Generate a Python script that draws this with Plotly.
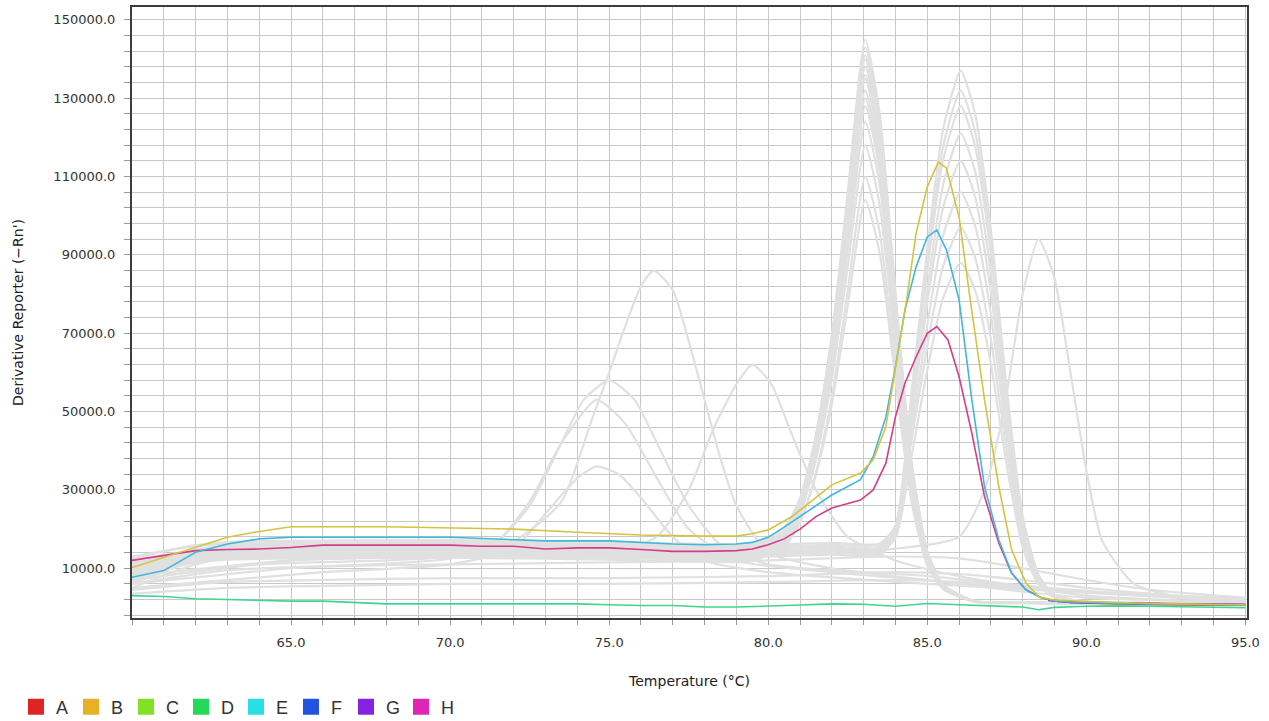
import plotly.graph_objects as go

# ---------------- colored wells ----------------
B_T = [60, 61, 62, 63, 64, 65, 68, 70, 72, 74, 76, 78, 79, 79.5, 80, 80.75, 81.5, 82, 82.9, 83.3, 83.7, 84,
       84.35, 84.65, 85, 85.35, 85.6, 86, 86.35, 86.8, 87.25, 87.65, 88.1, 88.5, 89, 90, 92, 95]
B_V = [10200, 12800, 15400, 17900, 19400, 20600, 20600, 20300, 20000, 19200, 18500, 18200, 18200, 18800, 19800,
       23200, 28000, 31300, 34300, 37700, 46200, 61500, 78500, 95600, 107400, 113700, 112200, 99700, 78500,
       53000, 30800, 14700, 6300, 2700, 1900, 1500, 1000, 700]

E_T = [60, 61, 62, 63, 64, 65, 70, 72, 73, 75, 76, 77, 78, 79, 79.5, 80, 80.5, 81, 82, 82.9, 83.3, 83.7, 84,
       84.3, 84.65, 85, 85.3, 85.6, 86, 86.4, 86.8, 87.25, 87.65, 88.1, 88.6, 89.1, 91, 95]
E_V = [7700, 9400, 14100, 16200, 17500, 17900, 17900, 17200, 17000, 17000, 16600, 16200, 16000, 16200, 16600,
       17900, 20500, 23200, 28700, 32600, 38500, 48700, 61500, 76000, 87000, 94600, 96400, 91300, 78500, 53000,
       30800, 17200, 8800, 4500, 2400, 1500, 1000, 600]

H_T = [60, 61, 62, 63, 64, 65, 66, 70, 71, 72, 73, 74, 75, 76, 77, 78, 79, 79.5, 80, 80.5, 81, 81.5, 82, 82.9,
       83.3, 83.7, 84, 84.3, 84.65, 85, 85.3, 85.65, 86, 86.4, 86.8, 87.25, 87.65, 88.1, 88.6, 89.1, 91, 95]
H_V = [12000, 13200, 14500, 14800, 14900, 15300, 15900, 15900, 15600, 15600, 14900, 15200, 15200, 14800, 14300,
       14300, 14500, 14900, 16000, 17500, 20000, 23200, 25400, 27400, 30000, 36900, 48700, 57300, 64000, 70000,
       71700, 68300, 58900, 44500, 28300, 16400, 8800, 4500, 2400, 1500, 1100, 700]

D_T = [60, 61, 62, 63, 64, 65, 66, 67, 68, 70, 72, 74, 75, 76, 77, 78, 79, 80, 81, 82, 83, 84, 85, 86, 87, 88,
       88.5, 89, 90, 91, 92, 93, 94, 95]
D_V = [3000, 2800, 2200, 2000, 1700, 1600, 1600, 1300, 900, 900, 900, 900, 700, 500, 500, 100, 100, 300, 600,
       900, 800, 300, 1000, 700, 400, 100, -600, 0, 300, 400, 300, 200, 0, -100]

TAIL_T = [88.8, 89.5, 90.5, 91.5, 92.5, 93.5, 94.5, 95]
A_V = [2000, 1300, 1000, 800, 700, 600, 600, 600]
F_V = [1900, 1400, 1200, 1000, 900, 800, 700, 700]
G_V = [1800, 1300, 1100, 1000, 950, 900, 800, 800]

# ---------------- gray (other) wells ----------------
G83_T = [60, 61, 62, 63, 65, 70, 75, 78, 79.5, 80.5, 81, 81.5, 82, 82.5, 83.05, 83.5, 84, 84.5, 85, 85.5, 86.5,
         88, 90, 95]
G83_1 = [9000, 11400, 13500, 14700, 15000, 15200, 14700, 14200, 14300, 18500, 26500, 43600, 69600, 106000, 145000, 126300, 80400, 37400, 14400, 5800, 1500, 1200, 1000, 600]
G83_2 = [11000, 13000, 14750, 15700, 16000, 16200, 15700, 15200, 15300, 19350, 27050, 43500, 68500, 103500, 141000, 122900, 78200, 36400, 14100, 5700, 1600, 1300, 1000, 700]
G83_3 = [8000, 10400, 12500, 13700, 14000, 14200, 13700, 13200, 13300, 17300, 25000, 41300, 66100, 100800, 138000, 120300, 76600, 35600, 13800, 5600, 1400, 1100, 900, 600]
G83_4 = [12000, 13400, 14600, 15200, 15500, 15700, 15200, 14700, 14800, 18700, 26100, 41800, 65700, 99200, 135000, 117600, 74900, 34900, 13500, 5500, 1500, 1200, 1000, 700]
G83_5 = [10000, 11400, 12600, 13200, 13500, 13700, 13200, 12700, 12800, 16700, 24000, 39600, 63300, 96500, 132000, 115000, 73300, 34100, 13200, 5400, 1500, 1200, 900, 600]
G83_6 = [13000, 14400, 15600, 16200, 16500, 16700, 16200, 15700, 15800, 19400, 26300, 41000, 63300, 94600, 128000, 111600, 71100, 33100, 12900, 5300, 1500, 1200, 1000, 700]
G83_7 = [7500, 10300, 12750, 14200, 14500, 14700, 14200, 13700, 13800, 17400, 24200, 38600, 60500, 91200, 124000, 108100, 68900, 32100, 12500, 5200, 1500, 1200, 900, 600]
G83_8 = [10500, 12300, 13900, 14700, 15000, 15200, 14700, 14200, 14300, 17700, 24100, 37700, 58300, 87100, 118000, 102900, 65600, 30600, 12000, 5000, 1500, 1200, 1000, 700]
G83_9 = [9500, 10900, 12100, 12700, 13000, 13200, 12700, 12200, 12300, 15500, 21500, 34300, 53700, 80900, 110000, 95900, 61200, 28600, 11300, 4800, 1500, 1200, 900, 600]
G83_10 = [11500, 12500, 13400, 13700, 14000, 14200, 13700, 13200, 13300, 16300, 21900, 33800, 51800, 77000, 104000, 90700, 57900, 27100, 10700, 4600, 1500, 1200, 1000, 700]
G83_11 = [12500, 14300, 15900, 16700, 17000, 17200, 16700, 16200, 16300, 20300, 27900, 44100, 68700, 103100, 140000, 122000, 77700, 36100, 14000, 5700, 1600, 1300, 1000, 700]
G83_12 = [8500, 10100, 11500, 12200, 12500, 12700, 12200, 11700, 11800, 15800, 23400, 39700, 64400, 99000, 136000, 118500, 75500, 35100, 13600, 5500, 1400, 1100, 900, 600]
G83_13 = [10000, 11800, 13400, 14200, 14500, 14700, 14200, 13700, 13800, 18000, 25900, 42800, 68500, 104500, 143000, 124600, 79300, 36900, 14200, 5700, 1500, 1200, 1000, 700]
G83_14 = [9000, 11600, 13900, 15200, 15500, 15700, 15200, 14700, 14800, 18500, 25600, 40700, 63600, 95700, 130000, 113300, 72200, 33600, 13100, 5400, 1500, 1200, 900, 600]

G86_T = [60, 61, 62, 63, 65, 70, 75, 78, 80, 82, 83.5, 84, 84.5, 85, 85.5, 86.05, 86.5, 87, 87.5, 88, 88.5, 89,
         90, 92, 95]
G86_1 = [6000, 9200, 12000, 13500, 14000, 14200, 13800, 13500, 14000, 14500, 14300, 20200, 54600, 91500, 122200, 137000, 126200, 96400, 55700, 23200, 8300, 3100, 1500, 1100, 800]
G86_2 = [8000, 10800, 13200, 14500, 15000, 15200, 14800, 14500, 15000, 15500, 15300, 20700, 52300, 86200, 114400, 128000, 117900, 90100, 52100, 21700, 7800, 3000, 1400, 1100, 800]
G86_3 = [5000, 8200, 11000, 12500, 13000, 13200, 12800, 12500, 13000, 13500, 13300, 18400, 48600, 81000, 108000, 121000, 111400, 85200, 49300, 20600, 7500, 2900, 1400, 1000, 700]
G86_4 = [9000, 11800, 14200, 15500, 16000, 16200, 15800, 15500, 16000, 16500, 16300, 20900, 48300, 77700, 102200, 114000, 105000, 80300, 46500, 19500, 7100, 2800, 1500, 1100, 800]
G86_5 = [7000, 10000, 12600, 14000, 14500, 14700, 14300, 14000, 14500, 15000, 14800, 19100, 44700, 72100, 95000, 106000, 97600, 74700, 43300, 18200, 6700, 2800, 1400, 1000, 700]
G86_6 = [10000, 12200, 14100, 15000, 15500, 15700, 15300, 15000, 15500, 16000, 15800, 19600, 42400, 66800, 87200, 97000, 89400, 68400, 39700, 16800, 6300, 2600, 1500, 1100, 800]
G86_7 = [6500, 9300, 11700, 13000, 13500, 13700, 13300, 13000, 13500, 14000, 13800, 19400, 52600, 88200, 117800, 132000, 121600, 92900, 53700, 22400, 8000, 3100, 1500, 1100, 800]
G86_8 = [8500, 10700, 12600, 13500, 14000, 14200, 13800, 13500, 14000, 14500, 14300, 17700, 38400, 60600, 79100, 88000, 81100, 62100, 36100, 15300, 5800, 2500, 1400, 1000, 700]

S1_T = [60, 63, 66, 70, 72, 73.5, 74.5, 75, 75.5, 76, 76.4, 77, 77.5, 78, 78.5, 79, 80, 82, 85, 88, 90, 95]
S1_V = [9000, 12500, 13500, 14500, 17000, 27000, 49000, 60000, 71700, 82000, 86000, 81000, 68000, 53000, 38000, 26000, 14000, 10000, 7000, 4000, 2500, 1200]
S2_T = [60, 64, 68, 70, 71.5, 72.5, 73.5, 74.2, 75, 75.8, 76.5, 77.5, 78.5, 80, 85, 90, 95]
S2_V = [7000, 11000, 12000, 13000, 17000, 26000, 42000, 53000, 58000, 53000, 42000, 26000, 16000, 11000, 8000, 4000, 1500]
S3_T = [60, 65, 70, 71.5, 72.5, 73.5, 74.6, 75.5, 76.5, 77.5, 79, 82, 88, 95]
S3_V = [6000, 10000, 12500, 17000, 27000, 42000, 53000, 47000, 33000, 20000, 12000, 9000, 5000, 1500]
S4_T = [60, 66, 70, 72, 73, 74, 74.6, 75.3, 76, 77, 78, 80, 85, 95]
S4_V = [5000, 9000, 11000, 15000, 24000, 33000, 36000, 34000, 28000, 18000, 12000, 9000, 6000, 1500]
S5_T = [60, 65, 70, 75, 76.5, 77.5, 78.3, 79, 79.5, 80.1, 80.7, 81.5, 82.5, 84, 86, 90, 95]
S5_V = [8000, 12000, 13000, 14000, 18000, 30000, 46000, 57000, 62000, 57000, 45000, 30000, 18000, 12000, 8000, 3000, 1200]
S6_T = [60, 65, 70, 75, 80, 84, 86, 86.8, 87.4, 88, 88.5, 89, 89.5, 90, 90.5, 91.5, 93, 95]
S6_V = [7000, 12000, 13000, 13500, 14000, 15000, 18000, 30000, 50000, 80000, 94000, 84000, 60000, 35000, 17000, 6000, 2500, 1500]

L_T = [60, 63, 66, 70, 75, 80, 84, 86, 88, 90, 92, 95]
L1 = [6000, 9500, 10500, 11000, 11500, 12000, 13000, 12500, 10000, 7000, 4500, 2500]
L2 = [4500, 6500, 7000, 7500, 7500, 8000, 9000, 8500, 7000, 5000, 3500, 2000]
L3 = [3500, 5000, 5500, 6000, 6000, 6500, 7000, 6500, 5500, 4200, 3200, 2200]

LEGEND_NAMES = ["A", "B", "C", "D", "E", "F", "G", "H"]
LEGEND_COLORS = ["#e02424", "#e8b024", "#84e024", "#24d85a", "#28e0e4", "#2452e0", "#8424e0", "#e024b4"]

gray_series = [(G83_T, v) for v in [G83_1, G83_2, G83_3, G83_4, G83_5, G83_6, G83_7, G83_8, G83_9, G83_10,
                                    G83_11, G83_12, G83_13, G83_14]]
gray_series += [(G86_T, v) for v in [G86_1, G86_2, G86_3, G86_4, G86_5, G86_6, G86_7, G86_8]]
gray_series += [(S1_T, S1_V), (S2_T, S2_V), (S3_T, S3_V), (S4_T, S4_V), (S5_T, S5_V), (S6_T, S6_V)]
gray_series += [(L_T, L1), (L_T, L2), (L_T, L3)]

fig = go.Figure()
GRAY = "rgb(224,224,224)"
for t, v in gray_series:
    fig.add_trace(go.Scatter(x=t, y=v, mode="lines", showlegend=False, hoverinfo="skip",
                             line=dict(color=GRAY, width=2.2, shape="spline", smoothing=0.6)))

colored = [
    (TAIL_T, A_V, "rgb(220,60,40)"),
    (TAIL_T, G_V, "rgb(130,60,200)"),
    (TAIL_T, F_V, "rgb(50,80,210)"),
    (D_T, D_V, "rgb(64,212,144)"),
    (H_T, H_V, "rgb(214,60,140)"),
    (E_T, E_V, "rgb(64,184,216)"),
    (B_T, B_V, "rgb(212,196,64)"),
]
for t, v, c in colored:
    fig.add_trace(go.Scatter(x=t, y=v, mode="lines", showlegend=False,
                             line=dict(color=c, width=1.6)))

for n, c in zip(LEGEND_NAMES, LEGEND_COLORS):
    fig.add_trace(go.Scatter(x=[None], y=[None], mode="markers", name=n,
                             marker=dict(symbol="square", size=16, color=c)))

GRID = "rgb(200,200,200)"
TICKFONT = dict(family="DejaVu Sans", size=13, color="#333")
fig.update_layout(
    width=1269, height=721,
    margin=dict(l=132, r=22, t=7, b=103, autoexpand=False),
    paper_bgcolor="white", plot_bgcolor="white",
    font=dict(family="DejaVu Sans", color="#333"),
    legend=dict(orientation="h", xref="container", yref="container",
                x=0.0126, xanchor="left", y=0.0194, yanchor="middle",
                entrywidth=10, entrywidthmode="pixels",
                font=dict(family="Liberation Sans", size=18, color="#333"),
                bgcolor="rgba(0,0,0,0)"),
    xaxis=dict(range=[60, 95.05], tickmode="array", tickvals=[65, 70, 75, 80, 85, 90, 95],
               automargin=False,
               tickformat=".1f", tickfont=TICKFONT, ticks="outside", ticklen=5, tickcolor="#999",
               showgrid=True, gridcolor=GRID, gridwidth=1.2, zeroline=False,
               showline=True, linecolor="#3c3c3c", linewidth=2, mirror=True,
               ticklabelstandoff=6,
               minor=dict(tickmode="linear", tick0=60, dtick=1, showgrid=True, gridcolor=GRID,
                          gridwidth=1.2, ticks="outside", ticklen=5, tickcolor="#999"),
               title=dict(text="Temperature (°C)", font=dict(family="DejaVu Sans", size=14, color="#222"),
                          standoff=44)),
    yaxis=dict(range=[-2700, 153300], tickmode="array",
               tickvals=[10000, 30000, 50000, 70000, 90000, 110000, 130000, 150000],
               automargin=False,
               tickformat=".1f", tickfont=TICKFONT, ticks="outside", ticklen=6, tickcolor="#999",
               showgrid=True, gridcolor=GRID, gridwidth=1.2, zeroline=False,
               showline=True, linecolor="#3c3c3c", linewidth=2, mirror=True,
               ticklabelstandoff=6,
               minor=dict(tickmode="linear", tick0=-2000, dtick=4000, showgrid=True, gridcolor=GRID,
                          gridwidth=1.2, ticks="outside", ticklen=6, tickcolor="#999"),
               title=dict(text="Derivative Reporter (−Rn')", font=dict(family="DejaVu Sans", size=14, color="#222"),
                          standoff=26)),
)

fig.write_html("out.html", config={"displayModeBar": False},
               post_script="document.body.style.margin='0';")
